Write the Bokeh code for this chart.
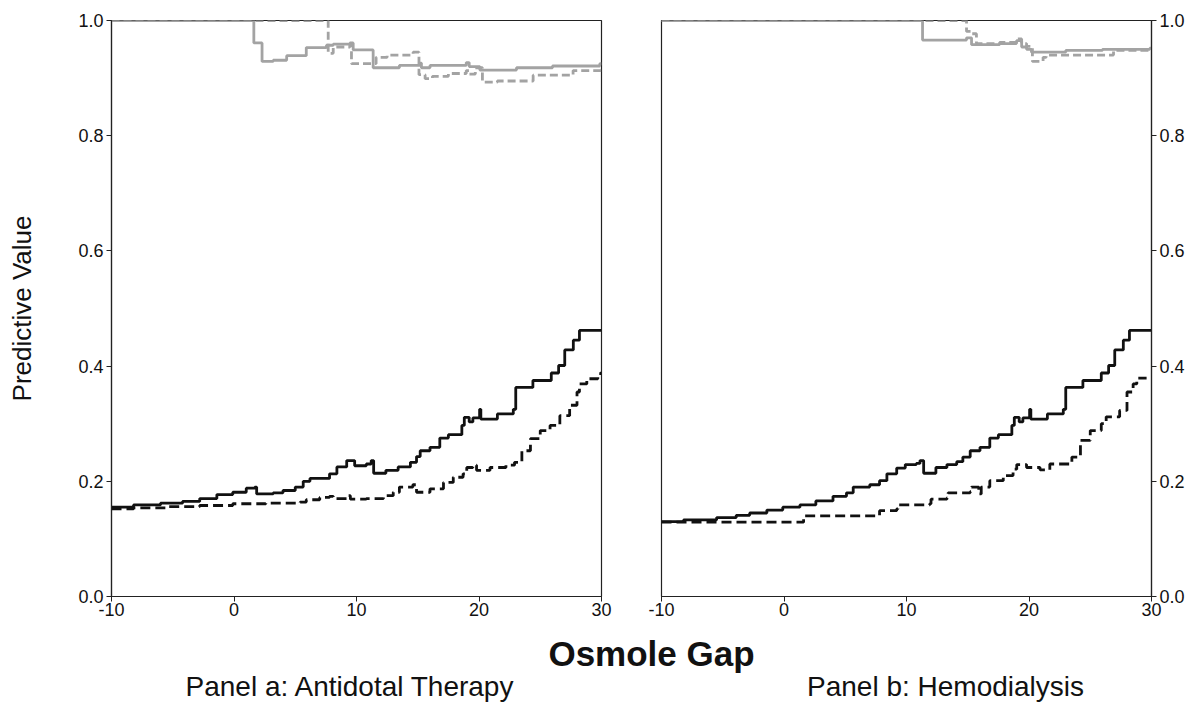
from bokeh.plotting import figure
from bokeh.layouts import column, row
from bokeh.models import Range1d, FixedTicker, PrintfTickFormatter
from bokeh.embed import file_html
from bokeh.resources import INLINE
from bokeh.core.properties import value

# ---------------- data ----------------
x_ticks = [-10, 0, 10, 20, 30]
y_ticks = [0.0, 0.2, 0.4, 0.6, 0.8, 1.0]

x_label = "Osmole Gap"
y_label = "Predictive Value"
panel_a_title = "Panel a: Antidotal Therapy"
panel_b_title = "Panel b: Hemodialysis"

# Panel a: black solid
a_black_solid_x = [-10, -8.2, -6.0, -4.2, -2.8, -1.4, -0.1, 1.0, 1.7, 1.85, 3.2, 4.0, 5.0, 5.65, 6.2, 7.8,
                   8.4, 9.2, 9.85, 10.8, 11.2, 11.4, 12.4, 13.4, 14.4, 14.9, 15.2, 16.0, 16.8, 17.5, 18.6,
                   18.8, 19.2, 19.5, 20.05, 20.15, 21.5, 22.8, 23.0, 24.4, 25.9, 26.5, 27.0, 27.7, 28.2, 30]
a_black_solid_y = [0.155, 0.159, 0.162, 0.165, 0.170, 0.177, 0.181, 0.188, 0.190, 0.178, 0.180, 0.184, 0.190,
                   0.200, 0.205, 0.213, 0.225, 0.236, 0.227, 0.230, 0.236, 0.214, 0.219, 0.225, 0.233, 0.243,
                   0.253, 0.259, 0.275, 0.281, 0.297, 0.311, 0.303, 0.310, 0.325, 0.308, 0.317, 0.325, 0.363,
                   0.375, 0.388, 0.401, 0.428, 0.445, 0.462, 0.462]

# Panel a: black dashed
a_black_dash_x = [-10, -8.2, -5.5, -2.8, -0.1, 2.6, 5.4, 5.9, 7.0, 7.8, 8.1, 9.2, 9.5, 10.8, 12.2, 13.0,
                  13.5, 14.6, 14.9, 16.0, 17.1, 17.9, 18.7, 19.0, 19.5, 19.8, 20.9, 22.2, 22.9, 23.5, 24.2,
                  25.0, 25.8, 26.6, 27.4, 28.0, 28.2, 28.8, 29.7, 30]
a_black_dash_y = [0.152, 0.154, 0.156, 0.158, 0.161, 0.162, 0.164, 0.168, 0.172, 0.174, 0.170, 0.175, 0.169,
                  0.170, 0.175, 0.181, 0.190, 0.194, 0.181, 0.187, 0.198, 0.207, 0.213, 0.224, 0.228, 0.219,
                  0.224, 0.228, 0.233, 0.253, 0.274, 0.288, 0.297, 0.314, 0.332, 0.355, 0.369, 0.378, 0.387,
                  0.390]

# Panel a: grey solid
a_grey_solid_x = [-10, 1.62, 2.29, 3.2, 4.3, 5.9, 7.55, 8.1, 9.46, 9.73, 11.36, 13.5, 15.17, 15.3, 16.0,
                  18.96, 19.2, 20.07, 23.06, 26.0, 29.86, 30]
a_grey_solid_y = [1.0, 0.961, 0.929, 0.931, 0.939, 0.953, 0.957, 0.959, 0.961, 0.949, 0.918, 0.922, 0.926,
                  0.918, 0.922, 0.927, 0.920, 0.914, 0.918, 0.921, 0.925, 0.925]

# Panel a: grey dashed
a_grey_dash_x = [-10, 7.69, 8.1, 9.46, 9.59, 11.6, 12.5, 14.62, 15.1, 15.6, 16.2, 17.5, 18.96, 19.2, 19.7,
                 20.28, 21.5, 24.42, 27.68, 30]
a_grey_dash_y = [1.0, 0.943, 0.954, 0.958, 0.925, 0.936, 0.940, 0.945, 0.906, 0.899, 0.903, 0.908, 0.913,
                 0.907, 0.918, 0.893, 0.895, 0.905, 0.913, 0.916]

# Panel b: black solid
b_black_solid_x = [-10, -8.2, -5.5, -3.9, -2.8, -1.4, -0.1, 1.3, 2.6, 4.0, 5.1, 5.65, 7.0, 7.8, 8.4, 9.2,
                   9.9, 10.8, 11.1, 11.4, 12.4, 13.3, 14.1, 14.6, 15.2, 16.0, 16.8, 17.5, 18.6, 18.8, 19.2,
                   19.5, 20.05, 20.15, 21.5, 22.8, 23.0, 24.4, 25.9, 26.5, 27.0, 27.7, 28.2, 30]
b_black_solid_y = [0.130, 0.133, 0.137, 0.141, 0.145, 0.150, 0.155, 0.159, 0.166, 0.174, 0.180, 0.190, 0.194,
                   0.201, 0.213, 0.223, 0.229, 0.231, 0.236, 0.214, 0.224, 0.229, 0.234, 0.242, 0.253, 0.259,
                   0.275, 0.281, 0.297, 0.311, 0.303, 0.310, 0.325, 0.308, 0.317, 0.325, 0.363, 0.375, 0.388,
                   0.401, 0.428, 0.445, 0.462, 0.462]

# Panel b: black dashed
b_black_dash_x = [-10, 1.6, 7.8, 9.2, 9.3, 11.9, 12.0, 13.3, 13.4, 15.2, 15.3, 15.9, 16.1, 16.8, 17.9, 18.7,
                  19.0, 19.8, 20.9, 21.7, 23.5, 24.2, 25.0, 25.9, 26.3, 27.4, 28.0, 28.5, 28.8, 29.6]
b_black_dash_y = [0.129, 0.140, 0.149, 0.152, 0.159, 0.161, 0.169, 0.171, 0.180, 0.182, 0.190, 0.178, 0.190,
                  0.201, 0.210, 0.221, 0.229, 0.224, 0.220, 0.230, 0.242, 0.271, 0.288, 0.300, 0.312, 0.323,
                  0.355, 0.369, 0.379, 0.379]

# Panel b: grey solid
b_grey_solid_x = [-10, 11.31, 14.9, 15.31, 17.6, 18.98, 19.4, 19.8, 20.2, 23.0, 26.0, 29.86, 30]
b_grey_solid_y = [1.0, 0.966, 0.970, 0.958, 0.960, 0.965, 0.954, 0.950, 0.945, 0.948, 0.950, 0.952, 0.952]

# Panel b: grey dashed
b_grey_dash_x = [-10, 14.9, 15.3, 15.71, 17.6, 18.98, 19.4, 19.8, 20.28, 21.15, 21.4, 26.05, 26.9, 30]
b_grey_dash_y = [1.0, 0.981, 0.977, 0.960, 0.962, 0.968, 0.960, 0.955, 0.929, 0.936, 0.940, 0.940, 0.948, 0.950]

# ---------------- style ----------------
FONT = "Liberation Sans"
BLACK = "#111111"
GREY = "#a3a3a3"


def make_panel(width, border_left, border_right, axis_side):
    p = figure(width=width, height=628, x_range=Range1d(-10, 30), y_range=Range1d(0, 1),
               toolbar_location=None, output_backend="svg", y_axis_location=axis_side,
               min_border_left=border_left, min_border_right=border_right,
               min_border_top=20, min_border_bottom=32)
    p.grid.visible = False
    p.outline_line_color = "#222222"
    p.outline_line_width = 1.2
    p.background_fill_color = "white"
    p.border_fill_color = "white"
    p.xaxis.ticker = FixedTicker(ticks=x_ticks)
    p.yaxis.ticker = FixedTicker(ticks=y_ticks)
    p.xaxis.formatter = PrintfTickFormatter(format="%d")
    p.yaxis.formatter = PrintfTickFormatter(format="%.1f")
    for ax in (p.xaxis, p.yaxis):
        ax.axis_line_color = "#222222"
        ax.axis_line_width = 1.2
        ax.major_tick_line_color = "#222222"
        ax.major_tick_in = 0
        ax.major_tick_out = 5
        ax.minor_tick_line_color = None
        ax.major_label_text_font = FONT
        ax.major_label_text_font_size = "18px"
        ax.major_label_text_color = "#111111"
    p.xaxis.major_label_standoff = 1
    p.yaxis.major_label_standoff = 3
    return p


def draw(p, gsx, gsy, gdx, gdy, bsx, bsy, bdx, bdy):
    p.step(gsx, gsy, mode="after", line_color=GREY, line_width=2.8)
    p.step(gdx, gdy, mode="after", line_color=GREY, line_width=2.8, line_dash="8 4")
    p.step(bsx, bsy, mode="after", line_color=BLACK, line_width=2.8)
    p.step(bdx, bdy, mode="after", line_color=BLACK, line_width=2.8, line_dash="10 5")


p1 = make_panel(631, 111, 30, "left")
p1.yaxis.axis_label = y_label
p1.yaxis.axis_label_text_font = FONT
p1.yaxis.axis_label_text_font_style = "normal"
p1.yaxis.axis_label_text_font_size = "26px"
p1.yaxis.axis_label_text_color = "#111111"
p1.yaxis.axis_label_standoff = 38
draw(p1, a_grey_solid_x, a_grey_solid_y, a_grey_dash_x, a_grey_dash_y,
     a_black_solid_x, a_black_solid_y, a_black_dash_x, a_black_dash_y)

p2 = make_panel(557, 30, 37, "right")
draw(p2, b_grey_solid_x, b_grey_solid_y, b_grey_dash_x, b_grey_dash_y,
     b_black_solid_x, b_black_solid_y, b_black_dash_x, b_black_dash_y)

# bottom caption strip
p3 = figure(width=1188, height=76, x_range=Range1d(0, 1188), y_range=Range1d(0, 76),
            toolbar_location=None, output_backend="svg", x_axis_type=None, y_axis_type=None,
            min_border=0)
p3.grid.visible = False
p3.outline_line_color = None
p3.text(x=[651], y=[51], text=[x_label], text_font=value(FONT), text_font_size="35px",
        text_font_style="bold", text_align="center", text_baseline="alphabetic", text_color="#111111")
p3.text(x=[350, 945], y=[18, 18], text=[panel_a_title, panel_b_title], text_font=value(FONT),
        text_font_size="28px", text_align="center", text_baseline="alphabetic", text_color="#111111")

layout = column(row(p1, p2, spacing=0), p3, spacing=0)
open("out.html", "w").write(file_html(layout, INLINE))
